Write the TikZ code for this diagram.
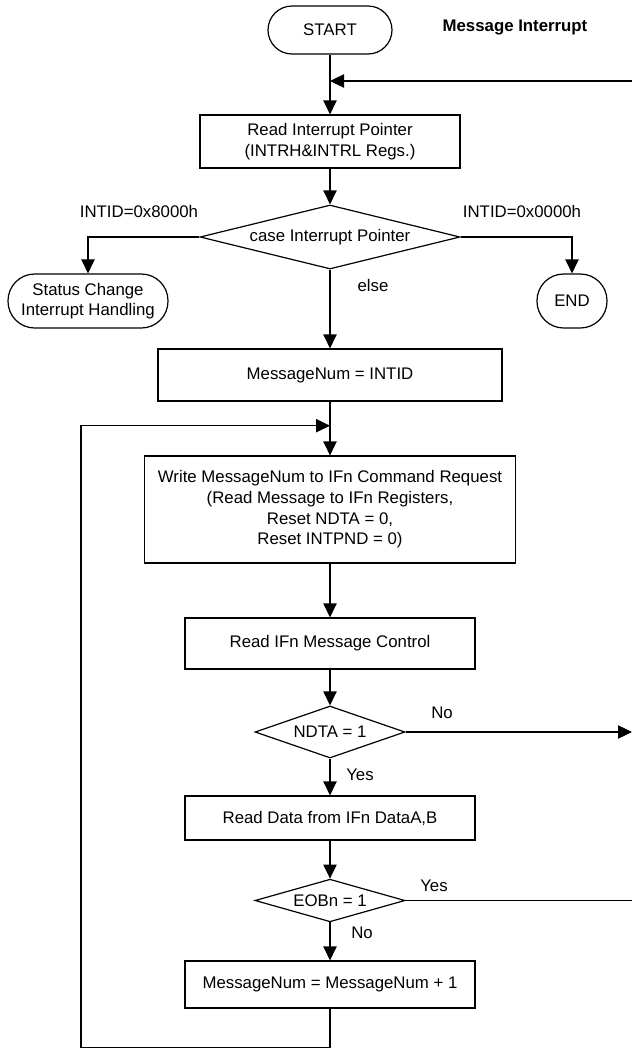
\documentclass[tikz,border=0pt]{standalone}
\usepackage{fontspec}
\setmainfont{Liberation Sans}
\usetikzlibrary{shapes.geometric,arrows.meta}
\begin{document}
\begin{tikzpicture}[
  x = 0.75pt, y = -0.75pt,
  every node/.style = {font=\fontsize{12.6}{15.5}\selectfont, inner sep=1.5pt},
  box/.style = {draw, line width=0.9pt, align=center},
  term/.style = {box, rounded corners=#1},
  test/.style = {draw, line width=0.9pt, diamond, shape aspect=4, inner sep=0pt},
  flow/.style = {draw, line width=0.9pt, -{Triangle[length=10.5pt, width=10pt]}},
  plain/.style = {draw, line width=0.9pt},
]
\useasboundingbox (0,0) rectangle (632,1050);

\node[term=18pt, minimum width=93pt, minimum height=36pt] (start) at (330,30) {START};
\node[font=\fontsize{12.6}{15.5}\selectfont\bfseries] (title) at (515,27) {Message Interrupt};
\node[box, minimum width=195pt, minimum height=39.75pt] (rdptr) at (330,141.5)
  {Read Interrupt Pointer\\(INTRH\&INTRL Regs.)};
\node[test, minimum width=195pt, minimum height=48pt] (case) at (330,237) {case Interrupt Pointer};
\node[term=20pt, minimum width=120pt, minimum height=40.5pt] (status) at (88,301)
  {Status Change\\Interrupt Handling};
\node[term=20pt, minimum width=52.5pt, minimum height=40.5pt] (end) at (572,301) {END};
\node[box, minimum width=258pt, minimum height=39pt] (msgnum) at (330,375) {MessageNum = INTID};
\node[box, minimum width=278.25pt, minimum height=80.25pt] (write) at (330,509.5)
  {Write MessageNum to IFn Command Request\\(Read Message to IFn Registers,\\Reset NDTA = 0,\\Reset INTPND = 0)};
\node[box, minimum width=217.5pt, minimum height=38.25pt] (rdctl) at (330,643.5) {Read IFn Message Control};
\node[test, minimum width=112.5pt, minimum height=39pt] (ndta) at (330,732) {NDTA = 1};
\node[box, minimum width=217.5pt, minimum height=33pt] (rddata) at (330,818) {Read Data from IFn DataA,B};
\node[test, minimum width=112.5pt, minimum height=32pt] (eobn) at (330,900.5) {EOBn = 1};
\node[box, minimum width=217.5pt, minimum height=35.25pt] (inc) at (330,984.5) {MessageNum = MessageNum + 1};

% branch labels
\node (lbl8000) at (139,211) {INTID=0x8000h};
\node (lbl0000) at (522,211) {INTID=0x0000h};
\node (lblelse) at (373,285) {else};
\node (lblno1)  at (442,713) {No};
\node (lblyes1) at (360,775) {Yes};
\node (lblyes2) at (434,886) {Yes};
\node (lblno2)  at (362,933) {No};

\coordinate (retin)  at (632,81);
\coordinate (join)   at (330,425.7);
\coordinate (loopbl) at (81,1047.7);
\coordinate (noout)  at (632,732);
\coordinate (yesout) at (632,900.5);

\foreach \from/\to in {start/rdptr, rdptr/case, case/msgnum, msgnum/write, write/rdctl,
                       rdctl/ndta, ndta/rddata, rddata/eobn, eobn/inc}
  \draw[flow] (\from.south) -- (\to.north);

\draw[flow] (retin) -- (start |- retin);
\draw[flow] (case.west) -| (status.north);
\draw[flow] (case.east) -| (end.north);
\draw[flow] (ndta.east) -- (noout);
\draw[plain] (eobn.east) -- (yesout);
% back to the next message
\draw[flow] (inc.south) |- (loopbl) |- (join);

\end{tikzpicture}
\end{document}
